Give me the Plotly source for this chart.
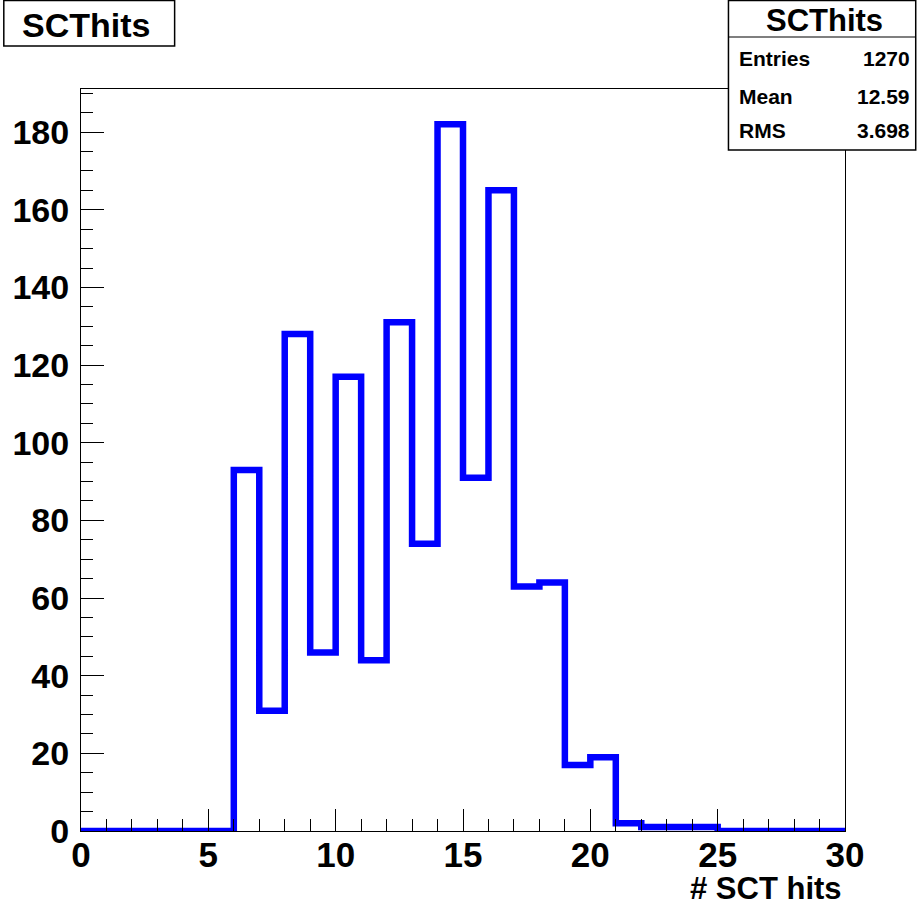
import plotly.graph_objects as go

# Histogram data: 30 unit-width bins from 0 to 30
bin_edges = list(range(0, 31))
counts = [0, 0, 0, 0, 0, 0, 93, 31, 128, 46, 117, 44, 131, 74, 182, 91,
          165, 63, 64, 17, 19, 2, 1, 1, 1, 0, 0, 0, 0, 0]
x_ticks = [0, 5, 10, 15, 20, 25, 30]
y_ticks = [0, 20, 40, 60, 80, 100, 120, 140, 160, 180]
stats_labels = ["Entries", "Mean", "RMS"]
stats_values = ["1270", "12.59", "3.698"]
hist_name = "SCThits"
x_title = "# SCT hits"

W, H = 917, 909
L, R, T, B = 78, 845, 89, 830.7
ymax = 191.1

def px(x):
    return (x - L) / (R - L)

def py(y):
    return (B - y) / (B - T)

FONT = "Liberation Sans, Arial, sans-serif"

fig = go.Figure()
fig.add_trace(go.Scatter(
    x=bin_edges, y=counts + [counts[-1]],
    mode="lines", line=dict(shape="hv", color="#0000ff", width=6.5),
    showlegend=False, hoverinfo="skip"))

fig.update_layout(
    width=W, height=H,
    margin=dict(l=L, r=W - R, t=T, b=H - B, pad=0),
    paper_bgcolor="white", plot_bgcolor="white",
    font=dict(family=FONT, color="black"),
    xaxis=dict(range=[0, 30], tickvals=x_ticks, ticktext=[str(v) for v in x_ticks],
               ticks="inside", ticklen=22, tickwidth=1, tickcolor="black",
               minor=dict(dtick=1, ticks="inside", ticklen=12, tickcolor="black", tickwidth=1),
               showline=True, linecolor="black", linewidth=1, mirror=True,
               showgrid=False, zeroline=False,
               tickfont=dict(size=35, family=FONT, weight="bold"),
               ticklabelstandoff=-7),
    yaxis=dict(range=[0, ymax], tickvals=y_ticks, ticktext=[str(v) for v in y_ticks],
               ticks="inside", ticklen=23, tickwidth=1, tickcolor="black",
               minor=dict(dtick=5, ticks="inside", ticklen=12, tickcolor="black", tickwidth=1),
               showline=True, linecolor="black", linewidth=1, mirror=True,
               showgrid=False, zeroline=False,
               tickfont=dict(size=34, family=FONT, weight="bold"),
               ticklabelstandoff=4),
)

shapes = []
# title box
shapes.append(dict(type="rect", xref="paper", yref="paper",
                   x0=px(0.5), x1=px(172), y0=py(46), y1=py(0.5),
                   line=dict(color="black", width=1.5), fillcolor="white", layer="above"))
# stats box
shapes.append(dict(type="rect", xref="paper", yref="paper",
                   x0=px(728), x1=px(916), y0=py(150), y1=py(0.5),
                   line=dict(color="black", width=1.5), fillcolor="white", layer="above"))
shapes.append(dict(type="line", xref="paper", yref="paper",
                   x0=px(728), x1=px(916), y0=py(37), y1=py(37),
                   line=dict(color="black", width=1.2), layer="above"))
fig.update_layout(shapes=shapes)

ann = []
ann.append(dict(text=hist_name, xref="paper", yref="paper", x=px(83), y=py(25),
                xanchor="center", yanchor="middle", showarrow=False,
                font=dict(size=34, family=FONT, weight="bold")))
ann.append(dict(text=hist_name, xref="paper", yref="paper", x=px(824), y=py(21),
                xanchor="center", yanchor="middle", showarrow=False,
                font=dict(size=31, family=FONT, weight="bold")))
row_y = [59, 96, 130]
for lab, val, yy in zip(stats_labels, stats_values, row_y):
    ann.append(dict(text=lab, xref="paper", yref="paper", x=px(737), y=py(yy),
                    xanchor="left", yanchor="middle", showarrow=False,
                    font=dict(size=21, family=FONT, weight="bold")))
    ann.append(dict(text=val, xref="paper", yref="paper", x=px(912), y=py(yy),
                    xanchor="right", yanchor="middle", showarrow=False,
                    font=dict(size=21, family=FONT, weight="bold")))
ann.append(dict(text=x_title, xref="paper", yref="paper", x=px(844), y=py(908),
                xanchor="right", yanchor="bottom", showarrow=False,
                font=dict(size=31, family=FONT, weight="bold")))
fig.update_layout(annotations=ann)

fig.write_html("out.html", config={"displayModeBar": False}, post_script=(
    "document.documentElement.style.margin='0';"
    "document.body.style.margin='0';"
    "document.body.style.overflow='hidden';"
    "document.documentElement.style.overflow='hidden';"))
